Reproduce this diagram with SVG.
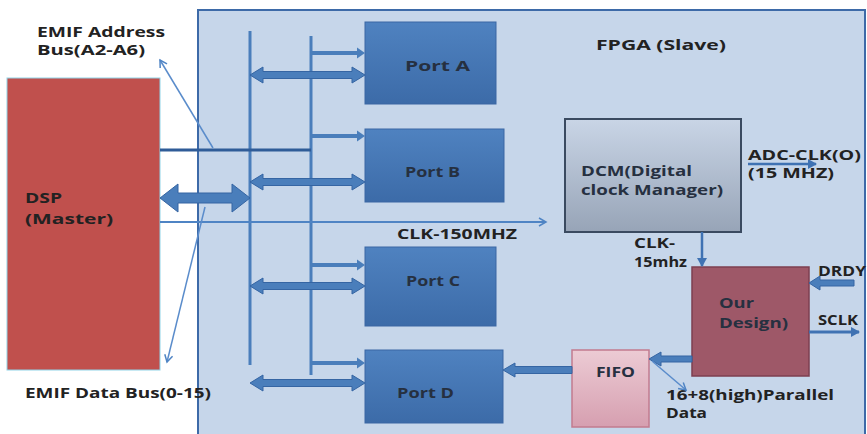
<svg xmlns="http://www.w3.org/2000/svg" width="867" height="434" viewBox="0 0 867 434">
<defs>
<linearGradient id="gPort" x1="0" y1="0" x2="0" y2="1"><stop offset="0" stop-color="#4f82c0"/><stop offset="1" stop-color="#3c6ba8"/></linearGradient>
<linearGradient id="gDcm" x1="0" y1="0" x2="0" y2="1"><stop offset="0" stop-color="#c9d5e6"/><stop offset="1" stop-color="#97a4b7"/></linearGradient>
<linearGradient id="gFifo" x1="0" y1="0" x2="0" y2="1"><stop offset="0" stop-color="#eccbd4"/><stop offset="1" stop-color="#d69fb0"/></linearGradient>
<marker id="open" markerWidth="10" markerHeight="10" refX="8" refY="5" orient="auto" markerUnits="userSpaceOnUse"><path d="M1,1 L8,5 L1,9" fill="none" stroke="#4f84c4" stroke-width="1.5"/></marker>
<marker id="solid" markerWidth="10" markerHeight="10" refX="8" refY="5" orient="auto" markerUnits="userSpaceOnUse"><path d="M0,0 L9,5 L0,10 Z" fill="#3f72b3"/></marker>
</defs>
<style>
text{font-family:"Open Sans","Liberation Sans",sans-serif;font-weight:700;fill:#222;font-size:14px}
.t{fill:#263040}
.port{fill:url(#gPort);stroke:#3a67a3;stroke-width:1}
.bus{stroke:#4a7ebb;stroke-width:3;fill:none}
.arr{fill:#4a7ebb;stroke:#3565a3;stroke-width:1}
.thin{stroke:#4a7ebb;stroke-width:4;fill:none}
.head{fill:#4a7ebb}
.ln{stroke:#5a8ccb;stroke-width:1.5;fill:none}
</style>

<g id="fpga"><rect x="198" y="10" width="667" height="440" fill="#c6d6ea" stroke="#3d6aa8" stroke-width="2"/>
<text x="596" y="50" textLength="130" lengthAdjust="spacingAndGlyphs">FPGA (Slave)</text></g>

<g id="dsp"><rect x="7" y="78" width="153" height="292" fill="#c0504d" stroke="#8fd3e8" stroke-width="1"/>
<text x="25" y="203" textLength="37" lengthAdjust="spacingAndGlyphs">DSP</text>
<text x="25" y="224" textLength="88" lengthAdjust="spacingAndGlyphs">(Master)</text></g>

<g id="labels">
<text x="37" y="37" textLength="128" lengthAdjust="spacingAndGlyphs">EMIF Address</text>
<text x="37" y="55" textLength="108" lengthAdjust="spacingAndGlyphs">Bus(A2-A6)</text>
<text x="25" y="398" textLength="186" lengthAdjust="spacingAndGlyphs">EMIF Data Bus(0-15)</text>
<text x="397" y="239" textLength="120" lengthAdjust="spacingAndGlyphs">CLK-150MHZ</text>
<text x="748" y="160" textLength="113" lengthAdjust="spacingAndGlyphs">ADC-CLK(O)</text>
<text x="748" y="178" textLength="86" lengthAdjust="spacingAndGlyphs">(15 MHZ)</text>
<text x="634" y="248" textLength="41" lengthAdjust="spacingAndGlyphs">CLK-</text>
<text x="634" y="267" textLength="53" lengthAdjust="spacingAndGlyphs">15mhz</text>
<text x="818" y="276" textLength="48" lengthAdjust="spacingAndGlyphs">DRDY</text>
<text x="818" y="325" textLength="40" lengthAdjust="spacingAndGlyphs">SCLK</text>
<text x="666" y="400" textLength="168" lengthAdjust="spacingAndGlyphs">16+8(high)Parallel</text>
<text x="666" y="418" textLength="41" lengthAdjust="spacingAndGlyphs">Data</text>
</g>

<g id="portA"><rect class="port" x="365" y="22" width="131" height="82"/><text class="t" x="405" y="71" textLength="65" lengthAdjust="spacingAndGlyphs">Port A</text></g>
<g id="portB"><rect class="port" x="365" y="129" width="139" height="73"/><text class="t" x="405" y="177" textLength="55" lengthAdjust="spacingAndGlyphs">Port B</text></g>
<g id="portC"><rect class="port" x="365" y="247" width="131" height="79"/><text class="t" x="406" y="286" textLength="54" lengthAdjust="spacingAndGlyphs">Port C</text></g>
<g id="portD"><rect class="port" x="365" y="350" width="138" height="73"/><text class="t" x="397" y="398" textLength="57" lengthAdjust="spacingAndGlyphs">Port D</text></g>

<g id="dcm"><rect x="565" y="119" width="176" height="113" fill="url(#gDcm)" stroke="#3a4a60" stroke-width="2"/>
<text class="t" x="581" y="176" font-weight="600" textLength="111" lengthAdjust="spacingAndGlyphs">DCM(Digital</text>
<text class="t" x="581" y="195" font-weight="600" textLength="142" lengthAdjust="spacingAndGlyphs">clock Manager)</text></g>

<g id="ourdesign"><rect x="692" y="267" width="117" height="109" fill="#9e5868" stroke="#7d3f50" stroke-width="1.5"/>
<text class="t" x="719" y="308" font-weight="600" textLength="35" lengthAdjust="spacingAndGlyphs">Our</text>
<text class="t" x="719" y="328" font-weight="600" textLength="69" lengthAdjust="spacingAndGlyphs">Design)</text></g>

<g id="fifo"><rect x="572" y="350" width="77" height="77" fill="url(#gFifo)" stroke="#c27b8f" stroke-width="1.5"/>
<text class="t" x="596" y="377" font-weight="600" textLength="39" lengthAdjust="spacingAndGlyphs">FIFO</text></g>

<g id="connectors">
<line class="bus" x1="250" y1="31" x2="250" y2="365"/>
<line class="bus" x1="311" y1="36" x2="311" y2="375"/>
<line x1="160" y1="150" x2="311" y2="150" stroke="#2f5c98" stroke-width="3"/>
<polygon class="arr" points="160,198 178,184 178,193 232,193 232,184 250,198 232,212 232,203 178,203 178,212"/>
<line x1="160" y1="222" x2="546" y2="222" stroke="#4f84c4" stroke-width="2" marker-end="url(#open)"/>
<line class="ln" x1="213" y1="148" x2="160" y2="60" marker-end="url(#open)"/>
<line class="ln" x1="205" y1="207" x2="167" y2="362" marker-end="url(#open)"/>
<polygon class="arr" points="250,75 263,67 263,71.5 352,71.5 352,67 365,75 352,83 352,78.5 263,78.5 263,83"/>
<polygon class="arr" points="250,182 263,174 263,178.5 352,178.5 352,174 365,182 352,190 352,185.5 263,185.5 263,190"/>
<polygon class="arr" points="250,286 263,278 263,282.5 352,282.5 352,278 365,286 352,294 352,289.5 263,289.5 263,294"/>
<polygon class="arr" points="250,383 263,375 263,379.5 352,379.5 352,375 365,383 352,391 352,386.5 263,386.5 263,391"/>
<line class="thin" x1="311" y1="53" x2="358" y2="53"/><polygon class="head" points="357,47.5 365,53 357,58.5"/>
<line class="thin" x1="311" y1="136" x2="358" y2="136"/><polygon class="head" points="357,130.5 365,136 357,141.5"/>
<line class="thin" x1="311" y1="265" x2="358" y2="265"/><polygon class="head" points="357,259.5 365,265 357,270.5"/>
<line class="thin" x1="311" y1="363" x2="358" y2="363"/><polygon class="head" points="357,357.5 365,363 357,368.5"/>
<line x1="748" y1="164" x2="816" y2="164" stroke="#3f72b3" stroke-width="2.5" marker-end="url(#solid)"/>
<line x1="702" y1="232" x2="702" y2="266" stroke="#3f72b3" stroke-width="2.5" marker-end="url(#solid)"/>
<polygon class="arr" points="809,283 820,276 820,280 854,280 854,286 820,286 820,290"/>
<line x1="809" y1="332" x2="859" y2="332" stroke="#3f72b3" stroke-width="3" marker-end="url(#solid)"/>
<polygon class="arr" points="649,359 661,352 661,356 692,356 692,362 661,362 661,366"/>
<line class="ln" x1="652" y1="361" x2="686" y2="390" marker-end="url(#open)"/>
<polygon class="arr" points="503,370 515,363 515,366.5 572,366.5 572,373.5 515,373.5 515,377"/>
</g>
</svg>
